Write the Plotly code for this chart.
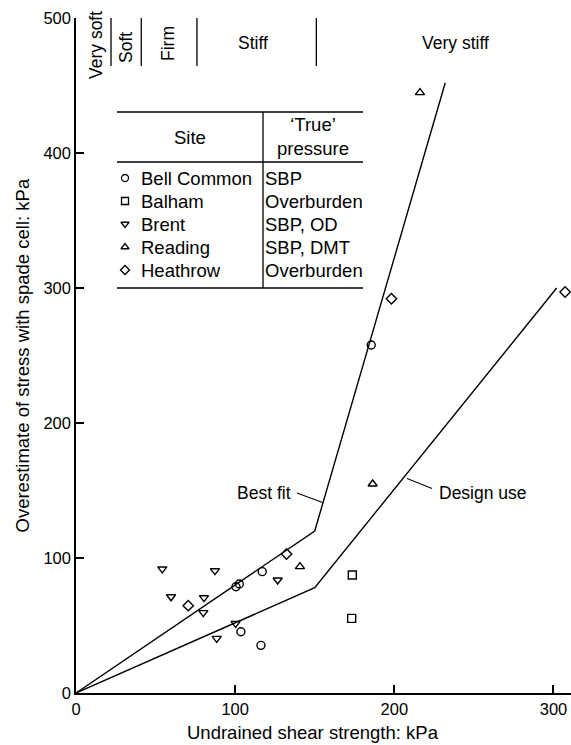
import plotly.graph_objects as go

# ---- data (kPa) ----
bell_x = [100.5, 102.6, 117.0, 103.6, 116.2, 185.5]
bell_y = [78.7, 80.7, 89.9, 45.4, 35.3, 257.8]
balham_x = [173.6, 173.2]
balham_y = [87.4, 55.3]
brent_x = [54.2, 87.3, 59.7, 80.4, 80.0, 126.7, 100.3, 88.4]
brent_y = [91.9, 90.6, 71.3, 70.6, 59.5, 83.7, 51.6, 40.5]
reading_x = [140.7, 216.1, 186.4]
reading_y = [93.6, 444.7, 154.8]
heathrow_x = [70.5, 132.3, 198.2, 307.3]
heathrow_y = [64.7, 103.0, 292.0, 297.0]

bestfit_x = [0, 150, 232]
bestfit_y = [0, 120, 452]
design_x = [0, 150, 302]
design_y = [0, 78, 300]

sites = ["Bell Common", "Balham", "Brent", "Reading", "Heathrow"]
pressures = ["SBP", "Overburden", "SBP, OD", "SBP, DMT", "Overburden"]
symbols = ["circle-open", "square-open", "triangle-down-open", "triangle-up-open", "diamond-open"]

zones = ["Very soft", "Soft", "Firm", "Stiff", "Very stiff"]
zone_bounds = [22, 41, 76, 151]

x_ticks = [0, 100, 200, 300]
y_ticks = [0, 100, 200, 300, 400, 500]

FONT = "Liberation Sans, Arial, sans-serif"
W, H = 571, 745
ML, MR, MT, MB = 76, 0, 18, 52
XR = [0, 311]
YR = [0, 500]
pw = W - ML - MR
ph = H - MT - MB


def px2x(px):
    return (px - ML) / pw * (XR[1] - XR[0]) + XR[0]


def py2y(py):
    return (H - MB - py) / ph * (YR[1] - YR[0]) + YR[0]


fig = go.Figure()

# fit lines
for xs, ys in [(bestfit_x, bestfit_y), (design_x, design_y)]:
    fig.add_trace(go.Scatter(x=xs, y=ys, mode="lines",
                             line=dict(color="black", width=1.4),
                             showlegend=False, hoverinfo="skip", cliponaxis=False))

series = [(bell_x, bell_y), (balham_x, balham_y), (brent_x, brent_y),
          (reading_x, reading_y), (heathrow_x, heathrow_y)]
for (xs, ys), sym in zip(series, symbols):
    fig.add_trace(go.Scatter(x=xs, y=ys, mode="markers",
                             marker=dict(symbol=sym, size=8, color="black",
                                         line=dict(width=1.4, color="black")),
                             showlegend=False, cliponaxis=False))

# ---- table legend ----
tbl_left, tbl_right, tbl_mid = 117, 363, 263
tbl_top, tbl_hdr, tbl_bot = 112, 162, 288
row_py = [178, 201, 224, 247, 270]
shapes = []
for ypx in [tbl_top, tbl_hdr, tbl_bot]:
    shapes.append(dict(type="line", xref="x", yref="y",
                       x0=px2x(tbl_left), x1=px2x(tbl_right),
                       y0=py2y(ypx), y1=py2y(ypx),
                       line=dict(color="black", width=1.3)))
shapes.append(dict(type="line", xref="x", yref="y",
                   x0=px2x(tbl_mid), x1=px2x(tbl_mid),
                   y0=py2y(tbl_top), y1=py2y(tbl_bot),
                   line=dict(color="black", width=1.3)))

fig.add_trace(go.Scatter(x=[px2x(125)] * 5, y=[py2y(p) for p in row_py],
                         mode="markers",
                         marker=dict(symbol=symbols, size=7, color="black",
                                     line=dict(width=1.3, color="black")),
                         showlegend=False, cliponaxis=False))

annotations = []
fs = 17.5   # general labels
ft = 18.5   # table text
fa = 18.5   # axis titles
annotations.append(dict(x=px2x(190), y=py2y(137), xref="x", yref="y", text="Site",
                        showarrow=False, font=dict(size=ft, family=FONT, color="black")))
annotations.append(dict(x=px2x(313), y=py2y(136), xref="x", yref="y",
                        text="‘True’<br>pressure",
                        showarrow=False, font=dict(size=ft, family=FONT, color="black")))
for s, p, ypx in zip(sites, pressures, row_py):
    annotations.append(dict(x=px2x(139), y=py2y(ypx), xref="x", yref="y", text=s,
                            xanchor="left", showarrow=False,
                            font=dict(size=ft, family=FONT, color="black")))
    annotations.append(dict(x=px2x(263), y=py2y(ypx), xref="x", yref="y", text=p,
                            xanchor="left", showarrow=False,
                            font=dict(size=ft, family=FONT, color="black")))

# ---- consistency zones along the top ----
for b in zone_bounds:
    shapes.append(dict(type="line", xref="x", yref="y", x0=b, x1=b,
                       y0=py2y(15), y1=py2y(66),
                       line=dict(color="black", width=1.3)))
zone_pos = [(96, 45, -90), (126, 48, -90), (168, 44, -90), (253, 43, 0), (455, 43, 0)]
for z, (xp, yp, ang) in zip(zones, zone_pos):
    annotations.append(dict(x=px2x(xp), y=py2y(yp), xref="x", yref="y", text=z,
                            textangle=ang, showarrow=False,
                            font=dict(size=fs, family=FONT, color="black")))

# ---- line labels with leaders ----
shapes.append(dict(type="line", xref="x", yref="y",
                   x0=px2x(297), y0=py2y(493), x1=px2x(322.5), y1=py2y(502.5),
                   line=dict(color="black", width=1.1)))
shapes.append(dict(type="line", xref="x", yref="y",
                   x0=px2x(407), y0=py2y(478.5), x1=px2x(432), y1=py2y(488.5),
                   line=dict(color="black", width=1.1)))
annotations.append(dict(x=px2x(293), y=py2y(493), xref="x", yref="y", text="Best fit",
                        xanchor="right", showarrow=False,
                        font=dict(size=fs, family=FONT, color="black")))
annotations.append(dict(x=px2x(437), y=py2y(493), xref="x", yref="y", text="Design use",
                        xanchor="left", showarrow=False,
                        font=dict(size=fs, family=FONT, color="black")))

# axis titles
annotations.append(dict(x=(313 - ML) / pw, y=-(732 - (H - MB)) / ph, xref="paper", yref="paper",
                        xanchor="center", yanchor="middle",
                        text="Undrained shear strength: kPa", showarrow=False,
                        font=dict(size=fa, family=FONT, color="black")))
annotations.append(dict(x=(22 - ML) / pw, y=0.5, xref="paper", yref="paper",
                        xanchor="center", yanchor="middle",
                        text="Overestimate of stress with spade cell: kPa", textangle=-90,
                        showarrow=False, font=dict(size=fa, family=FONT, color="black")))

axis_common = dict(showline=True, linecolor="black", linewidth=1.5, ticks="inside",
                   ticklen=8, tickwidth=1.5, tickcolor="black", showgrid=False,
                   zeroline=False, tickfont=dict(size=16.5, family=FONT, color="black"))

fig.update_layout(
    width=W, height=H,
    margin=dict(l=ML, r=MR, t=MT, b=MB),
    paper_bgcolor="white", plot_bgcolor="white",
    xaxis=dict(range=XR, tickvals=x_ticks, ticktext=[str(v) for v in x_ticks], **axis_common),
    yaxis=dict(range=YR, tickvals=y_ticks, ticktext=[str(v) for v in y_ticks], **axis_common),
    shapes=shapes, annotations=annotations, showlegend=False,
)

fig.write_html("out.html")
